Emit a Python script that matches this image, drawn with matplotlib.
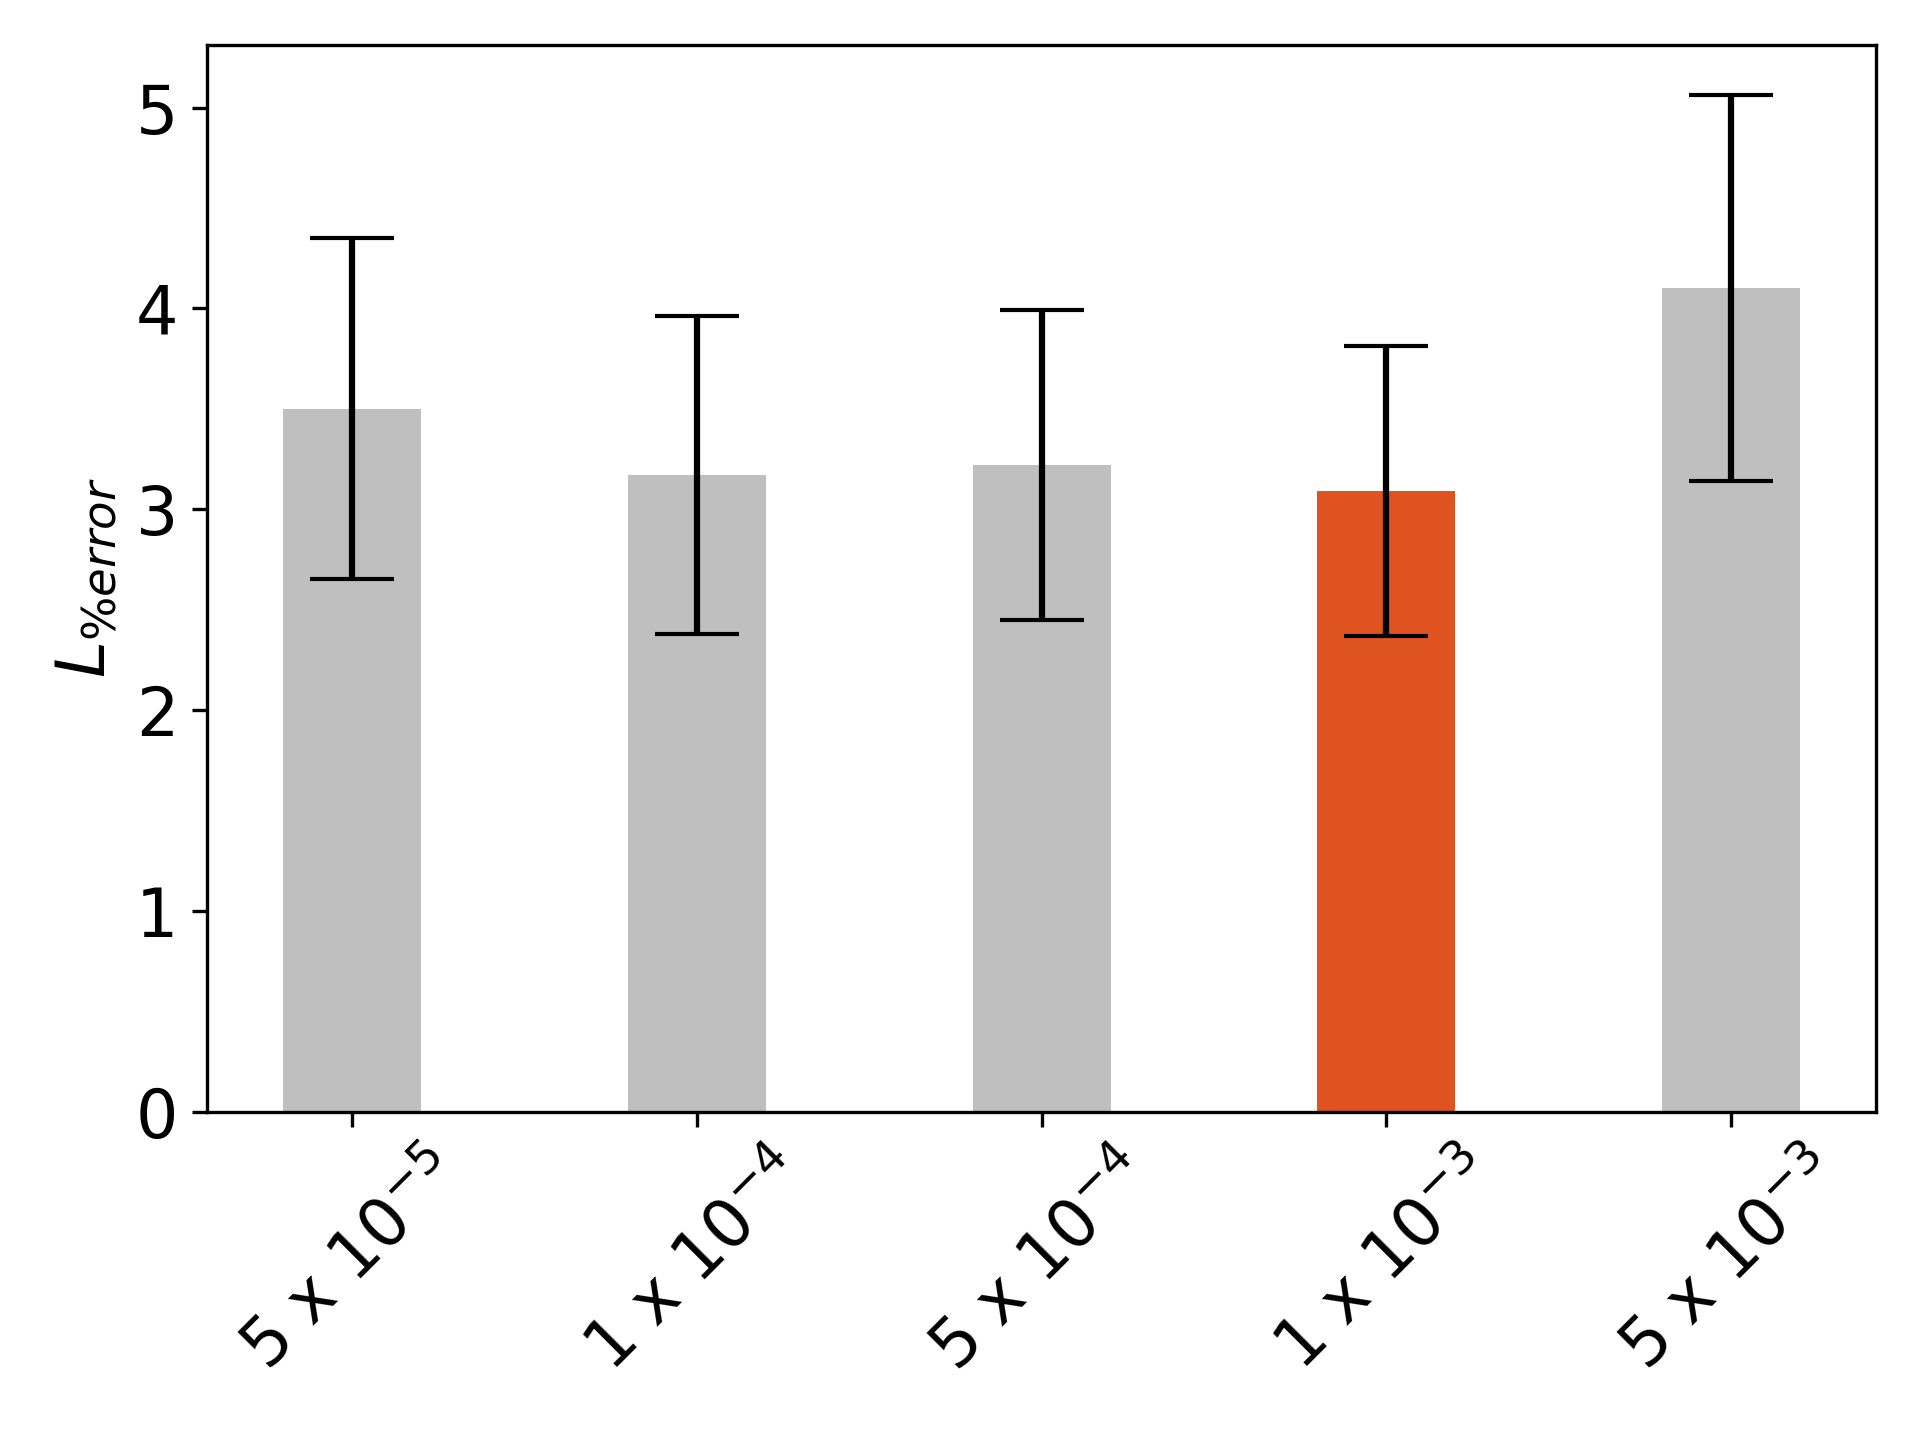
import matplotlib
matplotlib.use('Agg')
import matplotlib.pyplot as plt
import numpy as np

# learning rates and loss % error
labels = [r'5 x $10^{-5}$', r'1 x $10^{-4}$', r'5 x $10^{-4}$', r'1 x $10^{-3}$', r'5 x $10^{-3}$']
means = [3.50, 3.17, 3.22, 3.09, 4.10]
errs = [0.85, 0.79, 0.77, 0.72, 0.96]
colors = ['#bfbfbf', '#bfbfbf', '#bfbfbf', '#df5320', '#bfbfbf']

x = np.arange(len(labels))

fig, ax = plt.subplots(figsize=(6.4, 4.8), dpi=300)
ax.bar(x, means, width=0.4, color=colors, yerr=errs, capsize=10, ecolor='black')

ax.set_xticks(x)
ax.set_xticklabels(labels, rotation=45, fontsize=16)
ax.tick_params(axis='y', labelsize=16)
ax.set_ylabel(r'$L_{\%error}$', fontsize=16)
ax.set_ylim(bottom=0)

plt.subplots_adjust(left=0.108, right=0.977, top=0.969, bottom=0.228)
plt.savefig('out.png', dpi=300)
